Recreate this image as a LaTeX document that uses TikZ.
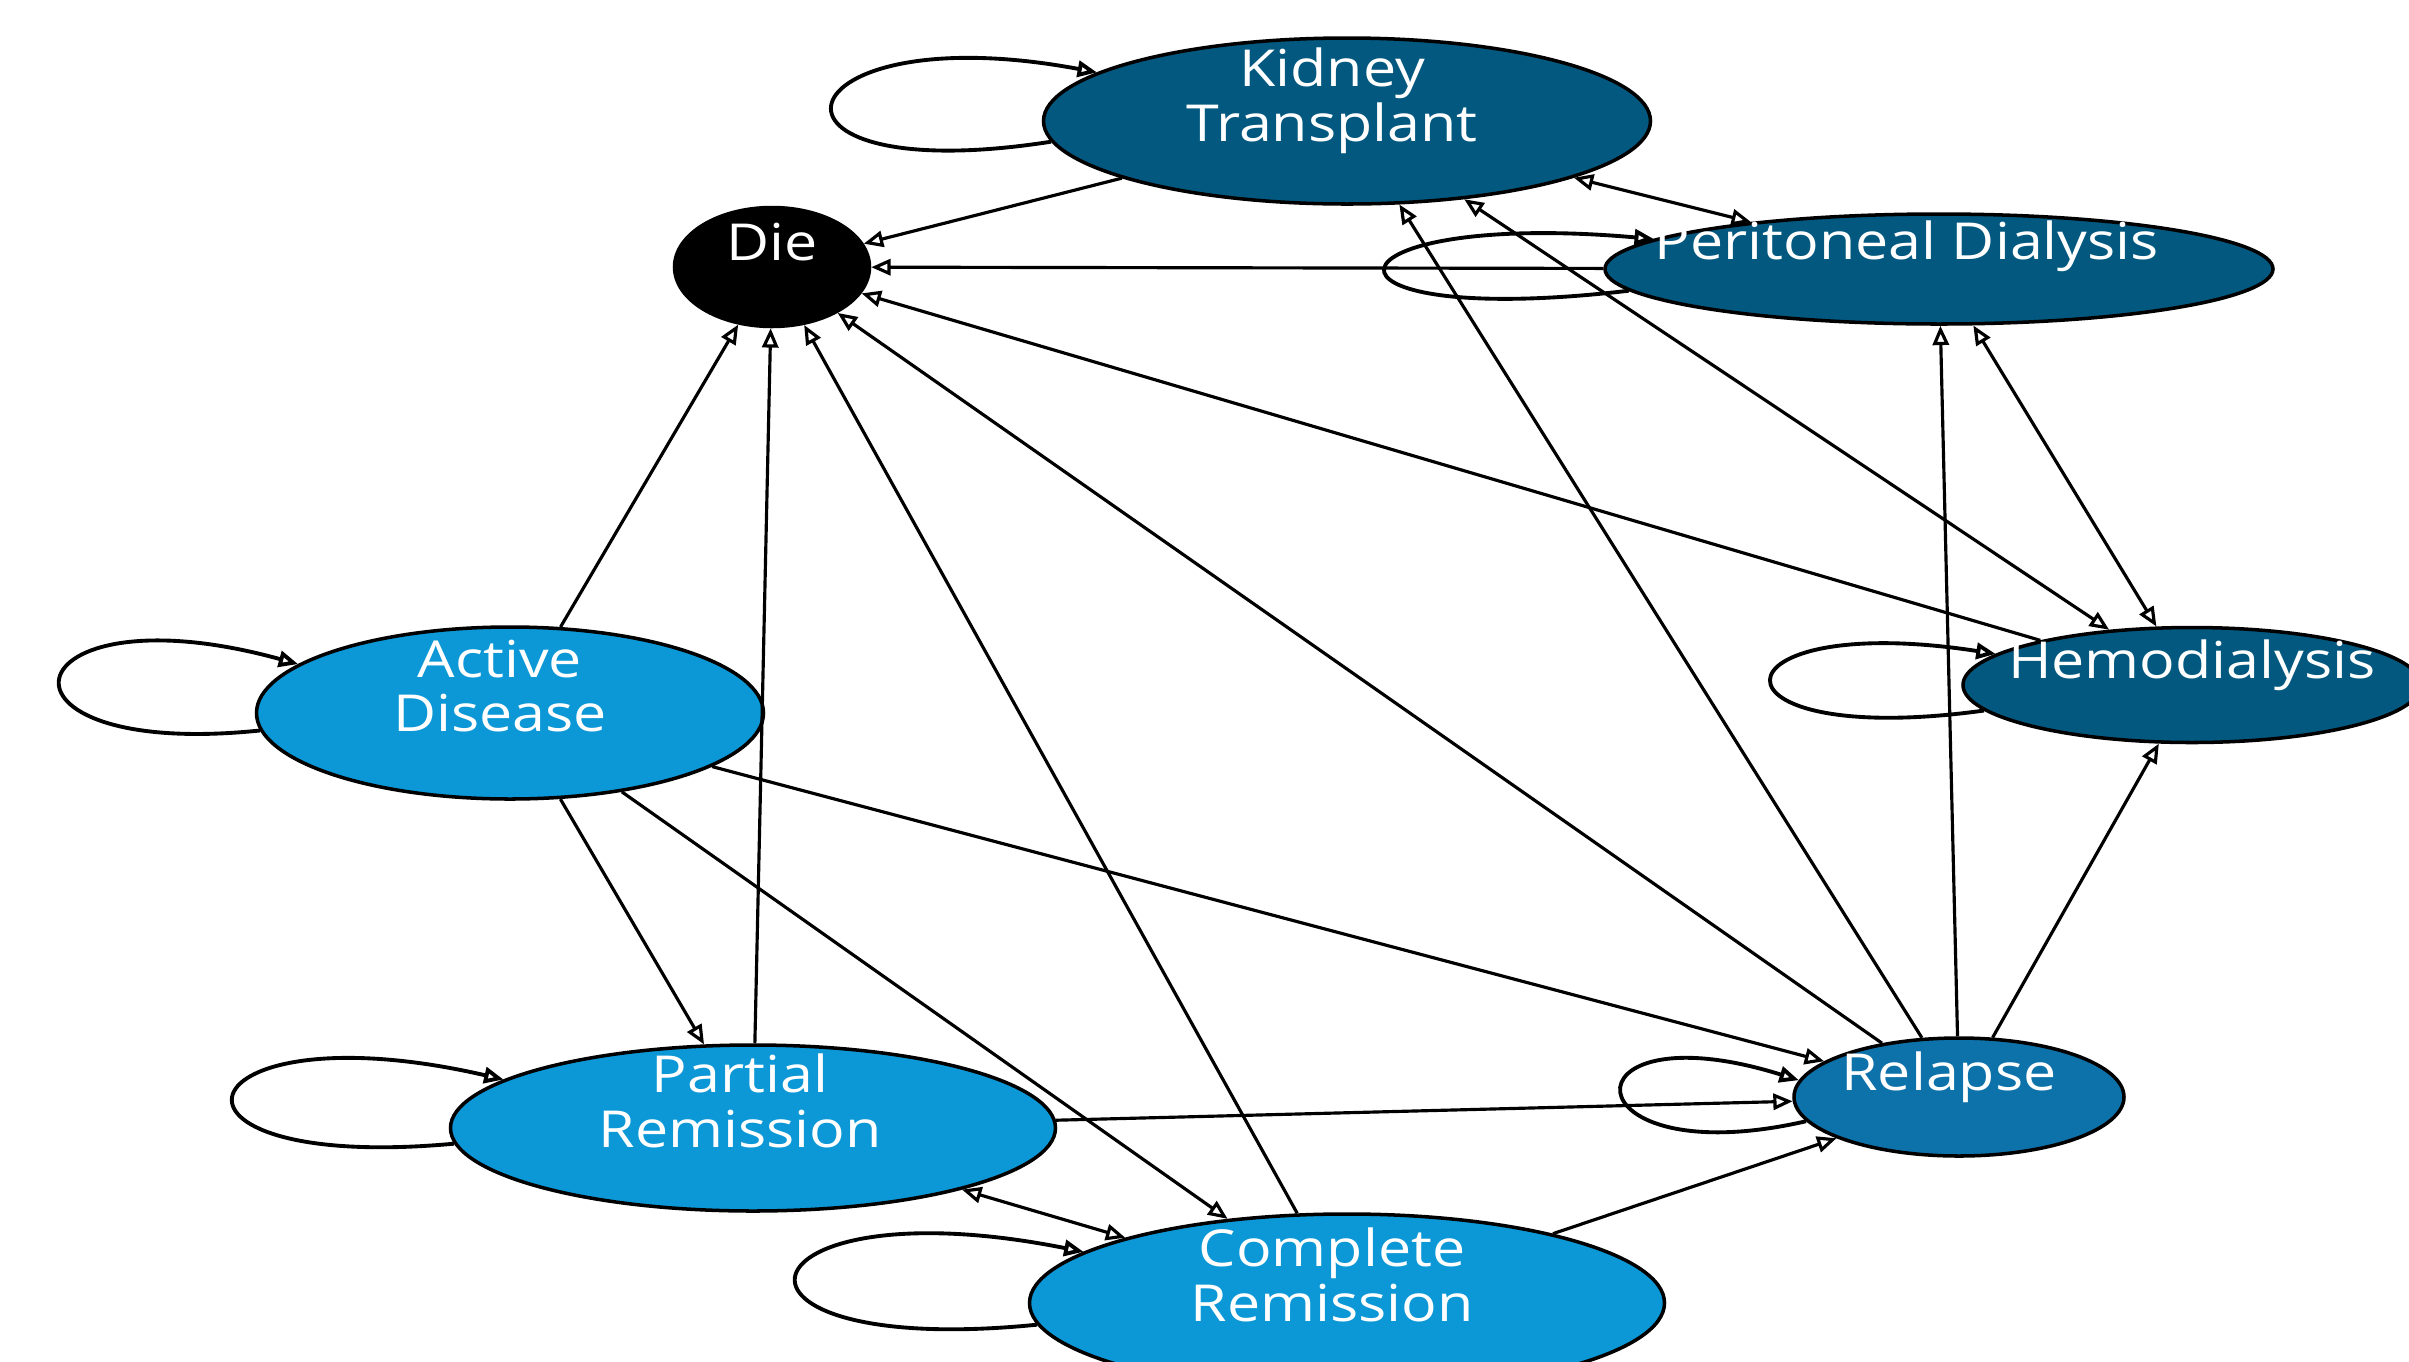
\documentclass[tikz,border=0pt]{standalone}
\usepackage{fontspec}
\newfontfamily\statefont[FakeStretch=1.16]{Open Sans}
\usetikzlibrary{shapes.geometric,arrows.meta}

\definecolor{darkstate}{HTML}{03587F}
\definecolor{relapsestate}{HTML}{0E72AA}
\definecolor{lightstate}{HTML}{0C98D6}

\tikzset{
	state/.style={draw, ellipse, line width=1pt, inner sep=0pt, fill=#1},
	statetext/.style={text=white, align=center,
		font=\statefont\fontsize{14.5}{15.6}\selectfont},
	trans/.style={-{Triangle[open,length=5.5pt,width=4.6pt]}, line width=0.9pt},
	twoway/.style={{Triangle[open,length=5.5pt,width=4.6pt]}-{Triangle[open,length=5.5pt,width=4.6pt]},
		line width=0.9pt},
	selfloop/.style={trans, line width=1.1pt}
}

\begin{document}
\begin{tikzpicture}
\clip (0,0) rectangle (24.09,-13.62);

% States
\node[state=black, minimum width=1.95cm, minimum height=1.19cm] (die) at (7.72,-2.67) {};
\node[state=darkstate, minimum width=6.07cm, minimum height=1.66cm] (kt) at (13.47,-1.21) {};
\node[state=darkstate, minimum width=6.68cm, minimum height=1.10cm] (pd) at (19.39,-2.69) {};
\node[state=darkstate, minimum width=4.58cm, minimum height=1.15cm] (hemo) at (21.92,-6.85) {};
\node[state=lightstate, minimum width=5.07cm, minimum height=1.72cm] (ad) at (5.10,-7.13) {};
\node[state=lightstate, minimum width=6.05cm, minimum height=1.66cm] (pr) at (7.53,-11.28) {};
\node[state=lightstate, minimum width=6.35cm, minimum height=1.78cm] (cr) at (13.47,-13.03) {};
\node[state=relapsestate, minimum width=3.30cm, minimum height=1.18cm] (relapse) at (19.59,-10.97) {};

% State names, set high in the ellipses
\node[statetext] (die-text) at ([yshift=0.25cm]die.center) {Die};
\node[statetext] (kt-text) at ([xshift=-0.15cm,yshift=0.2cm]kt.center) {Kidney\\Transplant};
\node[statetext] (pd-text) at ([xshift=-0.32cm,yshift=0.23cm]pd.center) {Peritoneal Dialysis};
\node[statetext] (hemo-text) at ([yshift=0.2cm]hemo.center) {Hemodialysis};
\node[statetext] (ad-text) at ([xshift=-0.1cm,yshift=0.27cm]ad.center) {Active\\Disease};
\node[statetext] (pr-text) at ([xshift=-0.13cm,yshift=0.27cm]pr.center) {Partial\\Remission};
\node[statetext] (cr-text) at ([xshift=-0.15cm,yshift=0.28cm]cr.center) {Complete\\Remission};
\node[statetext] (relapse-text) at ([xshift=-0.1cm,yshift=0.2cm]relapse.center) {Relapse};

% Staying in the same state
\draw[selfloop] (kt.184) .. controls +(-3.2,-0.5) and +(-3.2,0.6) .. (kt.169);
\draw[selfloop] (pd.184) .. controls +(-3.4,-0.4) and +(-3.4,0.3) .. (pd.174);
\draw[selfloop] (hemo.187) .. controls +(-2.9,-0.4) and +(-2.9,0.45) .. (hemo.171);
\draw[selfloop] (ad.184) .. controls +(-2.9,-0.3) and +(-2.9,0.8) .. (ad.167);
\draw[selfloop] (pr.183) .. controls +(-3.25,-0.3) and +(-3.25,0.75) .. (pr.169);
\draw[selfloop] (cr.184) .. controls +(-3.5,-0.35) and +(-3.5,0.7) .. (cr.169);
\draw[selfloop] (relapse.189) .. controls +(-2.4,-0.55) and +(-2.4,0.75) .. (relapse.174);

% Death
\draw[trans] (kt) -- (die);
\draw[trans] (pd) -- (die);
\draw[trans] (hemo) -- (die);
\draw[trans] (relapse) -- (die);
\draw[trans] (cr) -- (die);
\draw[trans] (pr) -- (die);
\draw[trans] (ad) -- (die);

% Renal replacement
\draw[trans] (relapse) -- (kt);
\draw[twoway] (kt) -- (hemo);
\draw[twoway] (kt) -- (pd);
\draw[twoway] (pd) -- (hemo);
\draw[trans] (relapse) -- (pd);
\draw[trans] (relapse) -- (hemo);

% Disease course
\draw[trans] (ad) -- (pr);
\draw[trans] (ad) -- (cr);
\draw[trans] (ad) -- (relapse);
\draw[trans] (pr) -- (relapse);
\draw[twoway] (pr) -- (cr);
\draw[trans] (cr) -- (relapse);

\end{tikzpicture}
\end{document}
